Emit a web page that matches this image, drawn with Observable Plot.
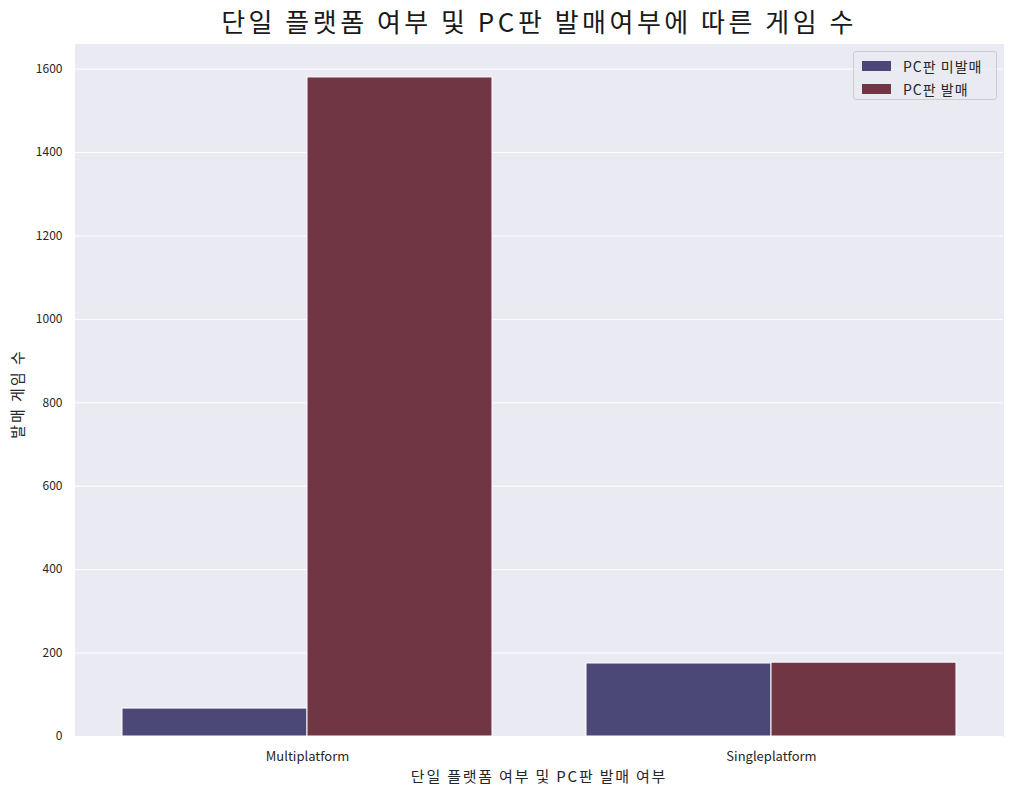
<!DOCTYPE html>
<html>
<head>
<meta charset="utf-8">
<script src="https://cdn.jsdelivr.net/npm/d3@7"></script>
<script src="https://cdn.jsdelivr.net/npm/@observablehq/plot@0.6"></script>
<style>
  html, body { margin: 0; padding: 0; background: white; }
  body { width: 1014px; height: 793px; position: relative; overflow: hidden;
         font-family: "Noto Sans CJK KR", "Noto Sans", sans-serif; color: #262626; }
  #title { position: absolute; left: 75px; width: 928px; top: 0; height: 44px; line-height: 42px;
           text-align: center; font-size: 26px; letter-spacing: 3.5px; color: #1a1a1a; }
  #chart { position: absolute; left: 0; top: 44px; }
  #ylabel { position: absolute; left: 16px; top: 394px; transform: translate(-50%, -50%) rotate(-90deg);
            font-size: 15px; letter-spacing: 2px; white-space: nowrap; }
  #xlabel { position: absolute; left: 539px; top: 775px; transform: translate(-50%, -50%);
            font-size: 15px; letter-spacing: 1.8px; white-space: nowrap; }
  #legend { position: absolute; left: 853px; top: 51px; width: 144px; height: 49px; box-sizing: border-box;
            background: rgba(234,234,242,0.8); border: 1px solid #cccccc; border-radius: 3px; font-size: 14px; letter-spacing: 1px; }
  .item { position: absolute; left: 8px; height: 16px; display: flex; align-items: center; }
  .sw { width: 29px; height: 10px; margin-right: 12px; }
</style>
</head>
<body>
<div id="title">단일 플랫폼 여부 및 PC판 발매여부에 따른 게임 수</div>
<div id="chart"></div>
<div id="ylabel">발매 게임 수</div>
<div id="xlabel">단일 플랫폼 여부 및 PC판 발매 여부</div>
<div id="legend"></div>
<script>
const platforms = ["Multiplatform", "Singleplatform"];
const pcStatus = ["PC판 미발매", "PC판 발매"];
const countsNotReleased = [67, 175];
const countsReleased = [1580, 177];
const yTicks = [0, 200, 400, 600, 800, 1000, 1200, 1400, 1600];
const colors = ["#4b4878", "#703643"];

const data = [];
platforms.forEach((p, i) => {
  data.push({platform: p, status: pcStatus[0], count: countsNotReleased[i]});
  data.push({platform: p, status: pcStatus[1], count: countsReleased[i]});
});

const chart = Plot.plot({
  width: 1014,
  height: 749,
  marginTop: 0,
  marginLeft: 75,
  marginRight: 11,
  marginBottom: 57,
  style: {fontFamily: "'Noto Sans CJK KR', 'Noto Sans', sans-serif", fontSize: "12px", color: "#262626", background: "white"},
  fx: {domain: platforms, padding: 0, label: null},
  x: {domain: pcStatus, paddingInner: 0, paddingOuter: 0.25, axis: null},
  y: {domain: [0, 1659], label: null},
  color: {domain: pcStatus, range: colors},
  marks: [
    Plot.frame({fill: "#eaeaf2", stroke: "#eaeaf2", strokeWidth: 1}),
    Plot.gridY(yTicks, {stroke: "white", strokeOpacity: 1, strokeWidth: 1}),
    Plot.barY(data, {fx: "platform", x: "status", y: "count", fill: "status", stroke: "white", strokeWidth: 1, inset: 0}),
    Plot.axisY(yTicks, {tickSize: 0, tickPadding: 13, label: null, fontSize: 12, tickFormat: d => String(d)}),
    Plot.axisFx({anchor: "bottom", tickSize: 0, tickPadding: 15, label: null, fontSize: 13})
  ]
});
document.getElementById("chart").appendChild(chart);

const legend = document.getElementById("legend");
pcStatus.forEach((s, i) => {
  const item = document.createElement("div");
  item.className = "item";
  item.style.top = (6 + i * 23) + "px";
  const sw = document.createElement("div");
  sw.className = "sw";
  sw.style.background = colors[i];
  const t = document.createElement("span");
  t.textContent = s;
  item.appendChild(sw);
  item.appendChild(t);
  legend.appendChild(item);
});
</script>
</body>
</html>
